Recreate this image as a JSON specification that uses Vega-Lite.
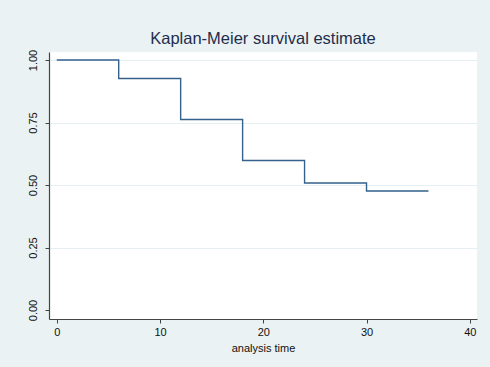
{
  "$schema": "https://vega.github.io/schema/vega-lite/v6.json",
  "width": 428,
  "height": 267,
  "autosize": {"type": "none"},
  "padding": {"left": 49, "top": 52, "right": 13, "bottom": 48},
  "background": "#eaf2f3",
  "title": {
    "text": "Kaplan-Meier survival estimate",
    "font": "Liberation Sans",
    "fontSize": 16.5,
    "fontWeight": "normal",
    "color": "#1f2d4d",
    "anchor": "middle",
    "offset": 2
  },
  "config": {
    "view": {"fill": "white", "stroke": null},
    "font": "Liberation Sans"
  },
  "data": {
    "values": [
      {"time": 0, "survival": 1.0},
      {"time": 6, "survival": 0.926},
      {"time": 12, "survival": 0.762},
      {"time": 18, "survival": 0.598},
      {"time": 24, "survival": 0.508},
      {"time": 30, "survival": 0.476},
      {"time": 36, "survival": 0.476}
    ]
  },
  "mark": {"type": "line", "interpolate": "step-after", "color": "#34628c", "strokeWidth": 1.4},
  "encoding": {
    "x": {
      "field": "time",
      "type": "quantitative",
      "scale": {"domain": [-0.75, 40.7], "nice": false, "zero": false},
      "axis": {
        "values": [0, 10, 20, 30, 40],
        "grid": false,
        "title": "analysis time",
        "titleFont": "Liberation Sans",
        "titleFontSize": 11,
        "titleFontWeight": "normal",
        "titleColor": "#111111",
        "titlePadding": 5,
        "labelFont": "Liberation Sans",
        "labelFontSize": 11,
        "labelColor": "#111111",
        "labelPadding": 3,
        "labelFlush": false,
        "tickSize": 4,
        "tickColor": "#444444",
        "domainColor": "#444444",
        "domainWidth": 1.2
      }
    },
    "y": {
      "field": "survival",
      "type": "quantitative",
      "scale": {"domain": [-0.036, 1.032], "nice": false, "zero": false},
      "axis": {
        "values": [0, 0.25, 0.5, 0.75, 1],
        "format": ".2f",
        "grid": true,
        "gridColor": {"condition": {"test": "datum.value === 0", "value": "transparent"}, "value": "#e6eff1"},
        "gridWidth": 1.2,
        "title": null,
        "labelFont": "Liberation Sans",
        "labelFontSize": 11,
        "labelColor": "#111111",
        "labelAngle": 270,
        "labelAlign": "center",
        "labelBaseline": "bottom",
        "labelPadding": 7,
        "labelFlush": false,
        "tickSize": 4,
        "tickColor": "#444444",
        "domainColor": "#444444",
        "domainWidth": 1.2
      }
    }
  }
}
